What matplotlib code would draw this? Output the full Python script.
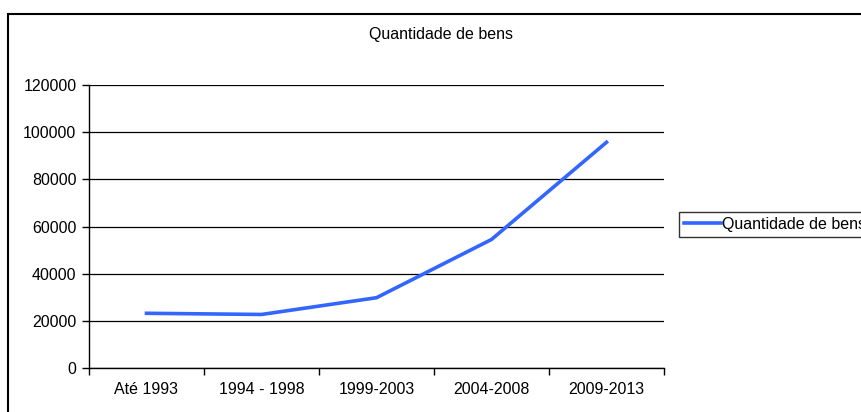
import matplotlib.pyplot as plt
from matplotlib.patches import Rectangle

# Chart data
categories = ['Até 1993', '1994 - 1998', '1999-2003', '2004-2008', '2009-2013']
quantidade = [23200, 22700, 29800, 54500, 95700]
y_ticks = [0, 20000, 40000, 60000, 80000, 100000, 120000]

plt.rcParams['font.family'] = ['Liberation Sans', 'DejaVu Sans']
fs = 11.5

fig = plt.figure(figsize=(8.61, 4.12), dpi=100)
ax = fig.add_axes([89 / 861, 1 - 368 / 412, 575 / 861, 283 / 412])

x = list(range(len(categories)))
line, = ax.plot(x, quantidade, color='#3366ff', linewidth=2.6,
                solid_joinstyle='miter', label='Quantidade de bens')

ax.set_xlim(-0.5, len(categories) - 0.5)
ax.set_ylim(0, 120000)
ax.set_yticks(y_ticks)
ax.set_yticklabels([str(v) for v in y_ticks], fontsize=fs)
ax.set_xticks(x)
ax.set_xticklabels(categories, fontsize=fs)
ax.set_xticks([i - 0.5 for i in range(len(categories) + 1)], minor=True)
ax.tick_params(axis='x', which='major', length=0, pad=10)
ax.tick_params(axis='x', which='minor', length=5, direction='out', width=1)
ax.tick_params(axis='y', length=5, direction='out', width=1, pad=4)

ax.grid(axis='y', color='black', linewidth=0.9)
ax.set_axisbelow(True)
for side in ['top', 'right']:
    ax.spines[side].set_visible(False)
for side in ['left', 'bottom']:
    ax.spines[side].set_linewidth(1)

fig.text(441 / 861, 1 - 34 / 412, 'Quantidade de bens', ha='center', va='center', fontsize=fs)

# outer chart border, runs off the right and bottom edges
fig.patches.append(Rectangle((8 / 861, -0.2), 1.2, 1.2 - 14 / 412,
                             transform=fig.transFigure, fill=False,
                             edgecolor='black', linewidth=1.5))

leg = fig.legend(handles=[line], loc='upper left',
                 bbox_to_anchor=(679 / 861, 1 - 212 / 412), fontsize=fs,
                 frameon=True, fancybox=False, handlelength=2.3,
                 handletextpad=0.1, borderpad=0.3, borderaxespad=0)
leg.get_frame().set_edgecolor('black')
leg.get_frame().set_linewidth(1)

fig.savefig('out.png', dpi=100)
